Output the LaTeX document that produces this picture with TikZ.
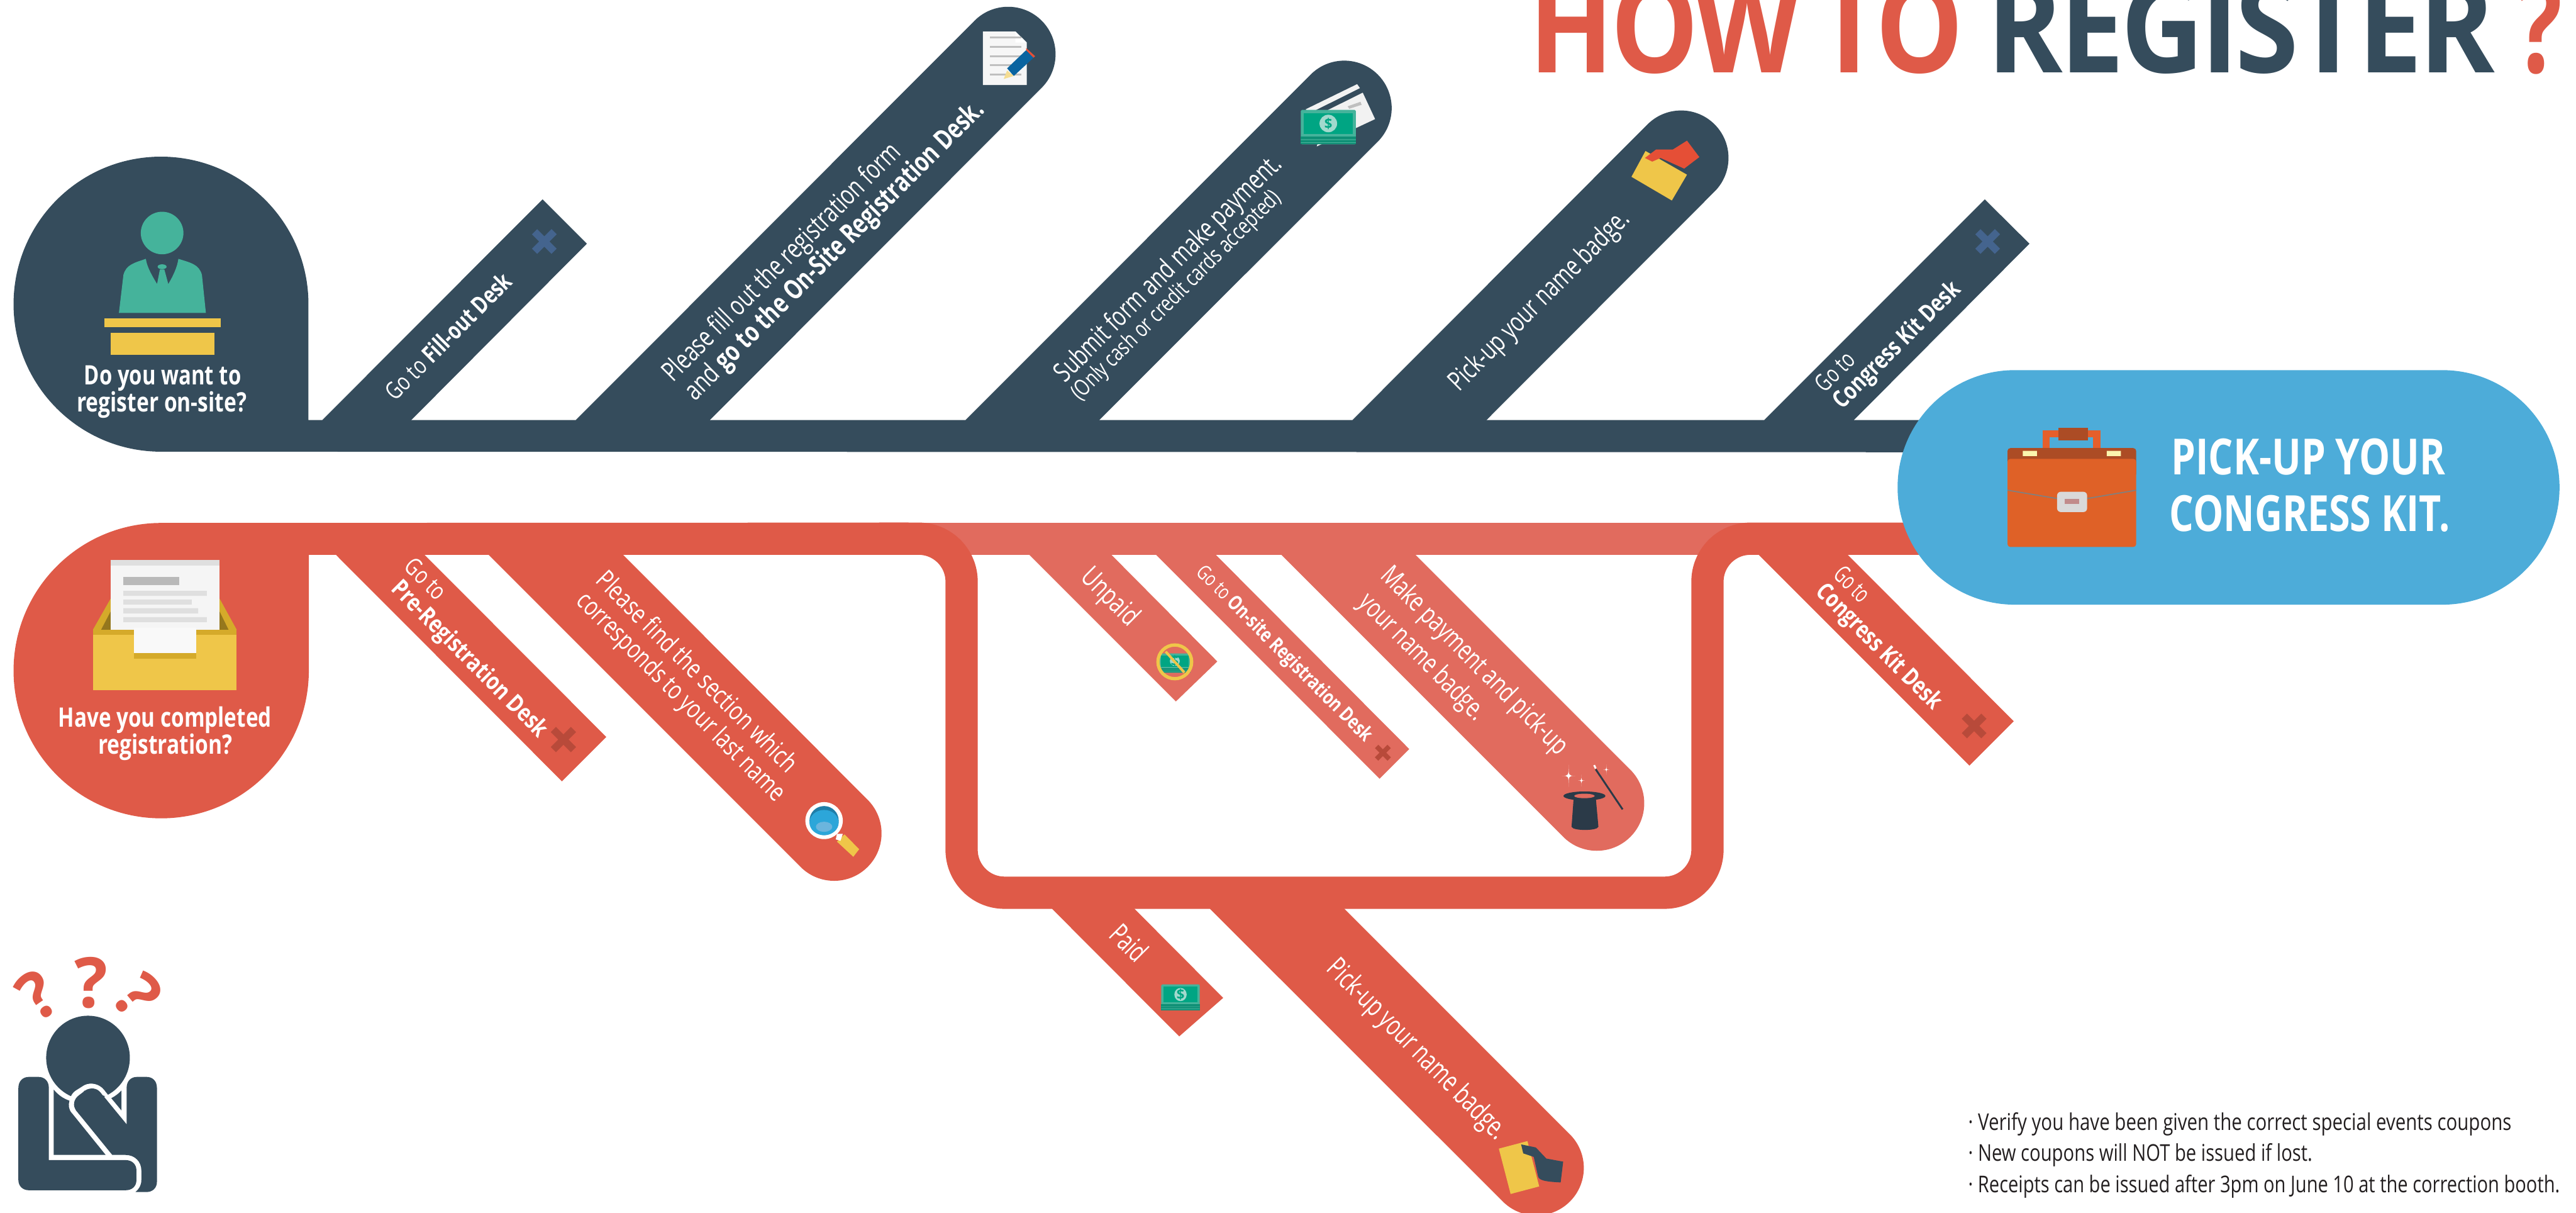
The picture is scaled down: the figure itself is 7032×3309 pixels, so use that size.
\documentclass[tikz,border=0pt]{standalone}
\usepackage{fontspec}
\setmainfont{Open Sans}
\newfontfamily\ttlfont{Open Sans}[LetterSpace=-3]
\definecolor{navy}{RGB}{53,76,92}
\definecolor{redd}{RGB}{223,90,72}
\definecolor{redl}{RGB}{225,107,94}
\definecolor{sky}{RGB}{77,172,217}
\definecolor{teal1}{RGB}{69,179,155}
\definecolor{teal2}{RGB}{0,165,131}
\definecolor{teal3}{RGB}{15,143,117}
\definecolor{yel}{RGB}{239,198,73}
\definecolor{yeld}{RGB}{213,170,42}
\definecolor{xblue}{RGB}{68,100,142}
\definecolor{xred}{RGB}{184,74,58}
\definecolor{hatc}{RGB}{43,58,72}
\definecolor{bagf}{RGB}{223,97,39}
\definecolor{bagd}{RGB}{172,76,37}
\definecolor{bagh}{RGB}{229,95,43}
\definecolor{latch}{RGB}{251,245,174}
\definecolor{pencilb}{RGB}{10,100,160}
\definecolor{handr}{RGB}{229,79,54}
\definecolor{lensb}{RGB}{44,166,217}
\definecolor{lensd}{RGB}{31,126,168}
\definecolor{lensl}{RGB}{107,181,221}
\definecolor{inkc}{RGB}{35,31,32}
\newsavebox\txtbox
\newcommand\setpx[1]{\pgfmathsetmacro\fsz{#1*0.28453}\fontsize{\fsz pt}{\fsz pt}\selectfont}
\newcommand\fitw[2]{\sbox\txtbox{#2}\pgfmathsetmacro\fitr{#1*0.28453/\the\wd\txtbox}\scalebox{\fitr}[1]{\usebox\txtbox}}
\newcommand\tl[7]{\node[lbl,rotate=#4] (#1) at (#2,#3) {\setpx{#6}\fitw{#5}{#7}};}
\newcommand\bo[1]{{\bfseries #1}}
\newcommand\capUp[6]{\fill[#1] (#2,{#4+3}) -- (#2,#4) -- ({#5-91.6},{#6-91.6}) arc[start angle=225,end angle=405,radius=129.5] -- (#3,#4) -- (#3,{#4+3}) -- cycle;}
\newcommand\capDn[6]{\fill[#1] (#2,{#4-3}) -- (#2,#4) -- ({#5-91.6},{#6+91.6}) arc[start angle=135,end angle=-45,radius=129.5] -- (#3,#4) -- (#3,{#4-3}) -- cycle;}
\newcommand\xmkb[5]{\draw[#4,line width=#5] ({#1-0.43*#3},{#2-0.43*#3}) -- ({#1+0.43*#3},{#2+0.43*#3}) ({#1-0.43*#3},{#2+0.43*#3}) -- ({#1+0.43*#3},{#2-0.43*#3});}
\newcommand\spark[3]{\fill[white] (#1,{#2-#3}) .. controls (#1,#2) .. ({#1+0.6*#3},#2) .. controls (#1,#2) .. (#1,{#2+#3}) .. controls (#1,#2) .. ({#1-0.6*#3},#2) .. controls (#1,#2) .. cycle;}
\newcommand\moneyicon[5]{\begin{scope}[shift={(#1,#2)},x=#3,y=#4]
 \fill[teal1,rounded corners=0.03cm] (0,0) rectangle (150,94);
 \fill[teal2] (8,9) rectangle (142,65);
 \fill[teal3] (0,73) rectangle (150,94);
 \fill[teal1] (0,80) rectangle (150,82) (0,88) rectangle (150,90);
 \fill[teal1!50!white] (75,37) ellipse [x radius=24,y radius=24];
 \node[inner sep=0,text=teal2] (#5) at (75,37) {\setpx{38}\bo{\$}};
\end{scope}}
\tikzset{x=0.01cm,y=-0.01cm,
 lbl/.style={anchor=base west,inner sep=0,outer sep=0,text=white},
 lbld/.style={anchor=base west,inner sep=0,outer sep=0,text=white,font=\ttlfont\bfseries}}
\begin{document}
\begin{tikzpicture}
\useasboundingbox (0,0) rectangle (7032,3309);
\clip (0,0) rectangle (7032,3309);
% ---------- top navy flow
\fill[navy] (842,1146) -- (842,830) arc[start angle=0,end angle=-270,radius=402.5] -- (5300,1234) -- (5300,1146) -- cycle;
\fill[navy] (880,1149) -- (880,1146) -- (1481,544) -- (1602,665) -- (1123,1146) -- (1123,1149) -- cycle;
\capUp{navy}{1572}{1938}{1146}{2752}{148}
\capUp{navy}{2636}{3001}{1146}{3669.5}{295}
\capUp{navy}{3692}{4058}{1146}{4589}{431}
\fill[navy] (4816,1149) -- (4816,1146) -- (5418,544) -- (5540,665) -- (5061,1146) -- (5061,1149) -- cycle;
% ---------- bottom red flow
\fill[redl] (2500,1426) rectangle (4780,1514);
\fill[redl] (2810,1511) -- (2810,1514) -- (3210,1914) -- (3323,1805) -- (3034,1514) -- (3034,1511) -- cycle;
\fill[redl] (3156,1511) -- (3156,1514) -- (3766,2125) -- (3847,2044) -- (3319,1514) -- (3319,1511) -- cycle;
\capDn{redl}{3498}{3864}{1514}{4359}{2192}
\fill[redd] (843,1514) -- (843,1830) arc[start angle=0,end angle=270,radius=403] -- (2480,1426) -- (2480,1514) -- cycle;
\draw[redd,line width=0.88cm,rounded corners=1.17cm] (2400,1470) -- (2625,1470) -- (2625,2436) -- (4661,2436) -- (4661,1470) -- (5300,1470);
\fill[redd] (917,1511) -- (917,1514) -- (1534,2132) -- (1655,2011) -- (1159,1514) -- (1159,1511) -- cycle;
\capDn{redd}{1334}{1701}{1514}{2277}{2274}
\fill[redd] (2872,2477) -- (2872,2480) -- (3219,2828) -- (3339,2723) -- (3097,2480) -- (3097,2477) -- cycle;
\capDn{redd}{3303}{3670}{2480}{4194}{3187}
\fill[redd] (4801,1511) -- (4801,1514) -- (5376,2089) -- (5497,1968) -- (5044,1514) -- (5044,1511) -- cycle;
% ---------- destination pill
\fill[sky] (5500,1010) -- (6667,1010) arc[start angle=-90,end angle=90,radius=320] -- (5500,1650) arc[start angle=90,end angle=270,radius=320] -- cycle;
% ---------- X marks
\xmkb{1486}{659}{62}{xblue}{0.2cm}
\xmkb{5426}{659}{62}{xblue}{0.2cm}
\xmkb{1538}{2018}{64}{xred}{0.2cm}
\xmkb{3775}{2054}{40}{xred}{0.13cm}
\xmkb{5389}{1981}{62}{xred}{0.2cm}
% ---------- podium person (zoom coords)
\begin{scope}[shift={(0,0)},x=0.015306cm,y=-0.00829cm]
 \fill[teal1] (289,767) ellipse [x radius=38,y radius=70];
 \fill[teal1] (212,1030) -- (220,905) .. controls (225,870) and (240,865) .. (260,852) .. controls (262,880) and (272,910) .. (280,935) -- (285,887) -- (293,887) -- (300,935) .. controls (308,910) and (316,880) .. (318,852) .. controls (340,865) and (355,870) .. (360,905) -- (367,1030) -- cycle;
 \fill[teal1] (289,878) ellipse [x radius=8,y radius=8];
 \fill[yel] (186,1048) rectangle (393,1077);
 \fill[yel] (197,1095) rectangle (382,1169);
\end{scope}
% ---------- document and pencil
\begin{scope}[shift={(2400,0)},x=0.015306cm,y=-0.00829cm]
 \fill[white!93!gray] (185,104) -- (243,104) -- (263,140) -- (263,280) -- (185,280) -- cycle;
 \fill[white] (243,104) -- (263,140) -- (243,140) -- cycle;
 \foreach \yy in {124,155,185,215,246} \fill[gray!50] (197,{\yy-3}) rectangle (253,{\yy+3});
 \fill[pencilb] (228,225) -- (262,165) -- (275,190) -- (240,250) -- cycle;
 \fill[handr] (262,158) -- (278,185) -- (275,190) -- (262,165) -- cycle;
 \fill[yel!60!white] (228,232) -- (240,250) -- (222,260) -- cycle;
 % card and cash
 \fill[white!90!gray] (760,360) -- (852,277) -- (857,290) -- (770,370) -- cycle;
 \fill[white!90!gray] (800,362) -- (862,305) -- (884,392) -- (780,482) -- cycle;
 \fill[gray!50] (835,350) -- (858,335) -- (860,345) -- (838,358) -- cycle;
 % badge
 \fill[yel] (1366,497) -- (1440,575) -- (1413,660) -- (1341,582) -- cycle;
 \fill[handr] (1440,463) -- (1462,517) -- (1435,555) -- (1393,520) -- (1378,532) -- (1365,520) -- (1385,492) -- (1415,492) -- cycle;
\end{scope}
\moneyicon{3551}{300}{0.01cm}{-0.01cm}{cashA}
% ---------- inbox
\begin{scope}[shift={(0,1300)},x=0.015944cm,y=-0.00765cm]
 \fill[yeld] (159,547) -- (189,437) -- (376,437) -- (405,547) -- cycle;
 \fill[yeld!70!black] (173,547) -- (189,483) -- (376,483) -- (391,547) -- cycle;
 \fill[white!92!gray] (189,298) rectangle (376,547);
 \fill[gray!25] (189,298) rectangle (376,318);
 \fill[gray!55] (211,359) rectangle (307,388);
 \fill[gray!25] (211,408) rectangle (354,426) (211,439) rectangle (328,457) (211,470) rectangle (339,489) (211,502) rectangle (354,520);
 \fill[yel] (159,547) rectangle (405,762);
 \fill[yeld] (159,547) rectangle (405,566);
 \fill[yeld] (229,566) rectangle (336,650);
 \fill[white!95!gray] (229,540) rectangle (336,631);
 % magnifier
 \fill[yel] (1445,1277) -- (1470,1330) -- (1460,1357) -- (1432,1303) -- cycle;
 \fill[white] (1432,1275) -- (1442,1275) -- (1438,1300) -- (1430,1295) -- cycle;
 \fill[white] (1410,1228) ellipse [x radius=32,y radius=66];
 \fill[lensd] (1410,1228) ellipse [x radius=25,y radius=52];
 \fill[lensb] (1410,1235) ellipse [x radius=25,y radius=45];
 \fill[lensl] (1410,1250) ellipse [x radius=14,y radius=18];
\end{scope}
% ---------- unpaid and paid cash
\moneyicon{3165}{1783}{0.0056cm}{-0.0056cm}{cashB}
\draw[yel,line width=0.09cm] (3207,1806) circle (46);
\draw[yel,line width=0.07cm] (3182,1778) -- (3233,1835);
\moneyicon{3170}{2686}{0.007cm}{-0.0075cm}{cashC}
% ---------- hat and wand
\begin{scope}[shift={(2500,1300)},x=0.01467cm,y=-0.00765cm]
 \fill[hatc] (1224,1145) -- (1265,1145) -- (1270,1250) .. controls (1268,1265) and (1222,1265) .. (1220,1250) -- cycle;
 \fill[hatc] (1244,1140) ellipse [x radius=39,y radius=16];
 \fill[redl] (1244,1140) ellipse [x radius=19,y radius=8];
 \draw[hatc,line width=0.05cm] (1265,1045) -- (1315,1188);
 \draw[white,line width=0.05cm] (1262,1030) -- (1265,1042);
\end{scope}
\spark{4282}{2117}{30}
\spark{4317}{2130}{16}
\spark{4385}{2100}{14}
% ---------- card and hand
\begin{scope}[shift={(2700,2300)},x=0.01148cm,y=-0.006435cm]
 \fill[yel] (1212,1295) -- (1280,1263) -- (1308,1455) -- (1240,1487) -- cycle;
 \fill[navy] (1265,1277) -- (1300,1290) -- (1325,1337) -- (1365,1350) -- (1359,1438) .. controls (1320,1435) and (1306,1428) .. (1305,1410) -- (1295,1330) -- (1270,1315) -- cycle;
\end{scope}
% ---------- briefcase
\begin{scope}[shift={(4700,0)},x=0.01487cm,y=-0.01084cm]
 \draw[bagh,line width=0.2cm] (595,1144) -- (595,1092) -- (688,1092) -- (688,1144);
 \fill[bagd,rounded corners=0.08cm] (524,1128) rectangle (760,1200);
 \fill[latch] (552,1135) rectangle (578,1148) (706,1135) rectangle (732,1148);
 \fill[bagf,rounded corners=0.08cm] (524,1155) rectangle (760,1377);
 \fill[bagd] (617,1077) rectangle (672,1109);
 \draw[gray,line width=0.03cm] (524,1234) -- (615,1255) (760,1234) -- (670,1255);
 \fill[gray!30,rounded corners=0.1cm] (615,1238) rectangle (670,1289);
 \fill[gray!70!red!70!white] (629,1256) rectangle (656,1269);
\end{scope}
% ---------- thinking person
\begin{scope}[shift={(0,2550)},x=0.003827cm,y=-0.00484cm]
 \fill[navy] (627,695) ellipse [x radius=298,y radius=237];
 \fill[navy] (131,865) .. controls (131,825) and (165,803) .. (205,803) -- (275,803) .. controls (315,803) and (348,825) .. (348,865) -- (348,1272) -- (895,1272) .. controls (940,1272) and (972,1295) .. (972,1330) -- (972,1385) .. controls (972,1420) and (940,1442) .. (895,1442) -- (205,1442) .. controls (165,1442) and (131,1420) .. (131,1385) -- cycle;
 \fill[navy] (902,865) .. controls (902,825) and (935,803) .. (975,803) -- (1045,803) .. controls (1085,803) and (1118,825) .. (1118,865) -- (1118,1395) .. controls (1118,1430) and (1085,1452) .. (1045,1452) -- (965,1452) .. controls (990,1435) and (1007,1415) .. (1007,1385) -- (1007,1330) .. controls (1007,1280) and (960,1243) .. (895,1243) -- (800,1243) -- (545,995) .. controls (515,965) and (525,930) .. (560,908) -- (610,878) .. controls (645,862) and (690,865) .. (715,890) -- (902,1070) -- cycle;
 \fill[white] (545,985) -- (500,1000) .. controls (480,950) and (500,900) .. (540,880) -- (600,850) .. controls (650,830) and (710,845) .. (740,875) -- (770,905) -- (790,920) -- (700,900) -- (600,880) -- cycle;
 \fill[navy] (560,908) -- (610,878) .. controls (645,862) and (690,865) .. (715,890) -- (800,975) -- (650,1090) -- (545,995) .. controls (515,965) and (525,930) .. (560,908) -- cycle;
 \fill[navy] (383,875) .. controls (415,905) and (450,925) .. (495,937) .. controls (485,965) and (490,990) .. (515,1010) -- (753,1243) -- (383,1243) -- cycle;
 \fill[navy] (793,923) .. controls (820,912) and (845,897) .. (865,880) -- (865,992) -- cycle;
\end{scope}
\node[inner sep=0,text=redd,rotate=35] (qa) at (103,2715) {\setpx{180}\bo{?}};
\node[inner sep=0,text=redd] (qb) at (249,2681) {\setpx{190}\bo{?}};
\node[inner sep=0,text=redd,rotate=-50] (qc) at (377,2717) {\setpx{180}\bo{?}};
% ---------- title
\node[lbld,text=redd] (t1) at (4175,198) {\setpx{350}\fitw{1185}{HOW\hspace{-0.08em} TO}};
\node[lbld,text=navy] (t2) at (5425,198) {\setpx{350}\fitw{1385}{REGISTER}};
\node[lbld,text=redd] (t3) at (6870,198) {\setpx{350}\fitw{125}{?}};
% ---------- disc and pill labels
\tl{a1}{230}{1049}{0}{428}{73}{\bo{Do you want to}}
\tl{a2}{210}{1123}{0}{463}{73}{\bo{register on-site?}}
\tl{b1}{159}{1983}{0}{582}{73}{\bo{Have you completed}}
\tl{b2}{268}{2057}{0}{366}{73}{\bo{registration?}}
\tl{c1}{5927}{1295}{0}{748}{136}{\bo{PICK-UP YOUR}}
\tl{c2}{5922}{1449}{0}{766}{136}{\bo{CONGRESS KIT.}}
% ---------- navy labels
\tl{n1}{1079}{1096}{45}{457}{66}{Go to \bo{Fill-out Desk}}
\tl{n2}{1837}{1045}{45}{885}{75}{Please fill out the registration form}
\tl{n3}{1898}{1096}{45}{1120}{75}{and \bo{go to the On-Site Registration Desk.}}
\tl{n4}{2908}{1046}{45}{840}{75}{Submit form and make payment.}
\tl{n5}{2948}{1095}{45}{780}{62}{(Only cash or credit cards accepted)}
\tl{n6}{3984}{1071}{45}{662}{75}{Pick-up your name badge.}
\tl{n7}{4982}{1073}{45}{122}{66}{Go to}
\tl{n8}{5030}{1119}{45}{460}{66}{\bo{Congress Kit Desk}}
% ---------- red labels
\tl{r1}{1100}{1550}{-45}{130}{66}{Go to}
\tl{r2}{1065}{1610}{-45}{573}{66}{\bo{Pre-Registration Desk}}
\tl{r3}{1623}{1587}{-45}{742}{72}{Please find the section which}
\tl{r4}{1570}{1644}{-45}{772}{72}{corresponds to your last name}
\tl{r5}{2947}{1579}{-45}{188}{77}{Unpaid}
\tl{r6}{3263}{1564}{-45}{654}{55}{Go to \bo{On-site Registration Desk}}
\tl{r7}{3765}{1575}{-45}{690}{75}{Make payment and pick-up}
\tl{r8}{3706}{1648}{-45}{455}{75}{your name badge.}
\tl{r9}{3024}{2555}{-45}{107}{78}{Paid}
\tl{r10}{3618}{2647}{-45}{660}{78}{Pick-up your name badge.}
\tl{r11}{5002}{1572}{-45}{109}{66}{Go to}
\tl{r12}{4954}{1618}{-45}{455}{66}{\bo{Congress Kit Desk}}
% ---------- notes
\tl{f1}{5373}{3084}{0}{1482}{63}{\color{inkc}· Verify you have been given the correct special events coupons}
\tl{f2}{5373}{3169}{0}{939}{63}{\color{inkc}· New coupons will NOT be issued if lost.}
\tl{f3}{5373}{3254}{0}{1614}{63}{\color{inkc}· Receipts can be issued after 3pm on June 10 at the correction booth.}
\end{tikzpicture}
\end{document}
